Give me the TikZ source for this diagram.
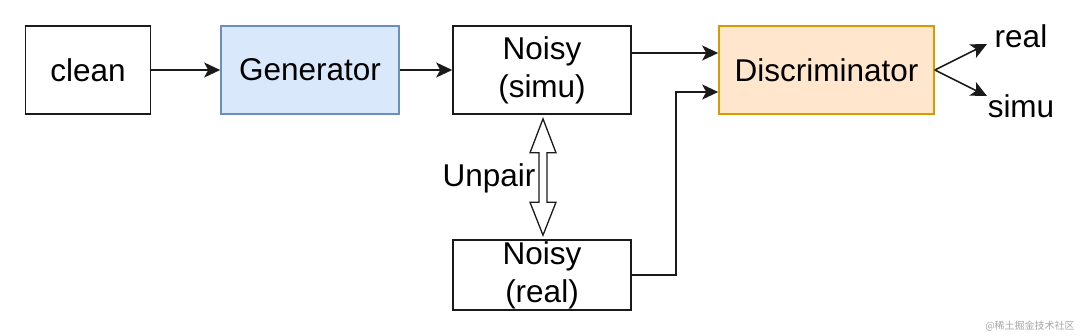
\documentclass[tikz,border=0pt]{standalone}
\usepackage{fontspec}
\setmainfont{Liberation Sans}
\newfontfamily\cjk{Noto Sans CJK SC}
\usetikzlibrary{arrows.meta,calc}
\definecolor{genfill}{HTML}{DAE8FC}
\definecolor{gendraw}{HTML}{6C8EBF}
\definecolor{disfill}{HTML}{FFE6CC}
\definecolor{disdraw}{HTML}{D79B00}
\definecolor{linecol}{HTML}{1A1A1A}
\tikzset{
  blk/.style={draw=linecol, line width=1.6pt, fill=white, inner sep=0pt, align=center,
    font=\fontsize{31.5}{38}\selectfont},
  conn/.style={draw=linecol, line width=1.6pt, -{Stealth[length=16pt,width=15pt,inset=4pt]}},
  lbl/.style={inner sep=0pt, font=\fontsize{31.5}{36}\selectfont},
}
\begin{document}
\begin{tikzpicture}[x=1pt,y=-1pt]
\useasboundingbox (0,0) rectangle (1080,335);
\node[blk, minimum width=125pt, minimum height=88pt] (clean) at (88,70) {clean};
\node[blk, fill=genfill, draw=gendraw, minimum width=178pt, minimum height=88pt] (gen) at (310,70) {Generator};
\node[blk, minimum width=178pt, minimum height=88pt] (simu) at (542,70) {Noisy\\(simu)};
\node[blk, fill=disfill, draw=disdraw, minimum width=215pt, minimum height=88pt] (dis) at (826.5,70) {Discriminator};
\node[blk, minimum width=178pt, minimum height=70pt] (real) at (542,275) {Noisy\\(real)};
\node[lbl] (outreal) at (1021,36) {real};
\node[lbl] (outsimu) at (1021,106) {simu};
\node[lbl] (unpair) at (489,178) {Unpair};
\node[inner sep=0pt, text=gray!70, font=\cjk\fontsize{10}{12}\selectfont] (wm) at (1030,326) {@稀土掘金技术社区};
\coordinate (o1) at (987,44);
\coordinate (o2) at (987,96);

\draw[conn] (clean.east) -- (gen.west);
\draw[conn] (gen.east) -- (simu.west);
\draw[conn] (simu.east |- 0,53) -- (dis.west |- 0,53);
\draw[conn] (real.east) -- (676,275) -- (676,92) -- (dis.west |- 0,92);
\draw[conn] (dis.east) -- (o1);
\draw[conn] (dis.east) -- (o2);

% double arrow between Noisy (simu) and Noisy (real)
\coordinate (ta) at ($(simu.south)+(1,4)$);
\coordinate (tb) at ($(real.north)+(1,-4)$);
\draw[draw=linecol, line width=1.3pt, fill=white, line join=miter]
  (ta) -- ($(ta)+(13,34)$) -- ($(ta)+(4,34)$) -- ($(tb)+(4,-33)$) -- ($(tb)+(13,-33)$)
  -- (tb) -- ($(tb)+(-13,-33)$) -- ($(tb)+(-4,-33)$) -- ($(ta)+(-4,34)$) -- ($(ta)+(-13,34)$) -- cycle;
\end{tikzpicture}
\end{document}
